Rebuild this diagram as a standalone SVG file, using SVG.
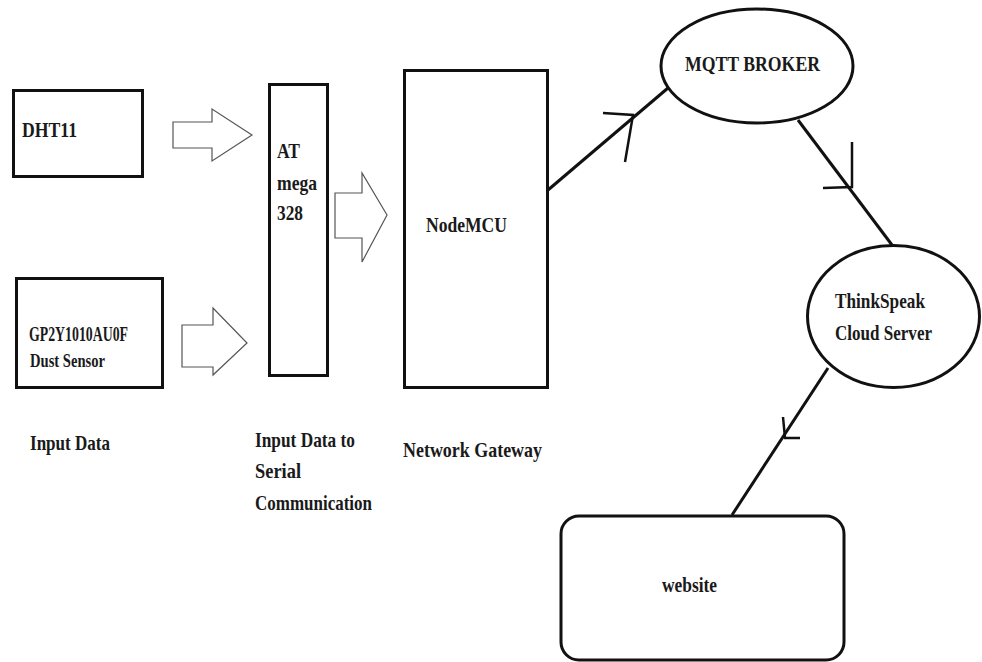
<svg xmlns="http://www.w3.org/2000/svg" width="982" height="662" viewBox="0 0 982 662">
<style>
.box{fill:none;stroke:#111;stroke-width:3}
.blk{fill:#fff;stroke:#555;stroke-width:1.2}
.ln{fill:none;stroke:#111;stroke-width:3}
.tick{fill:none;stroke:#111;stroke-width:2.5}
text{font-family:"Liberation Serif","Times New Roman",serif;font-weight:bold;fill:#1a1a1a;font-size:22px}
</style>
<rect width="982" height="662" fill="#fff"/>
<g id="dht11">
<rect class="box" x="13.5" y="90.5" width="129" height="86"/>
<text x="22" y="137" textLength="55" lengthAdjust="spacingAndGlyphs">DHT11</text>
</g>
<g id="gp2y">
<rect class="box" x="16.5" y="278.5" width="146" height="109"/>
<text x="29" y="341" font-size="20" textLength="99" lengthAdjust="spacingAndGlyphs" style="font-size:20px">GP2Y1010AU0F</text>
<text x="30" y="367" style="font-size:19px" textLength="75" lengthAdjust="spacingAndGlyphs">Dust Sensor</text>
</g>
<g id="atmega">
<rect class="box" x="269.5" y="84.5" width="58" height="291"/>
<text x="277" y="158" textLength="23" lengthAdjust="spacingAndGlyphs">AT</text>
<text x="277" y="190" textLength="40" lengthAdjust="spacingAndGlyphs">mega</text>
<text x="277" y="220" textLength="26" lengthAdjust="spacingAndGlyphs">328</text>
</g>
<g id="nodemcu">
<rect class="box" x="404.5" y="70.5" width="143" height="317"/>
<text x="426" y="232" textLength="81" lengthAdjust="spacingAndGlyphs">NodeMCU</text>
</g>
<g id="mqtt">
<ellipse class="box" cx="757" cy="66" rx="96" ry="57"/>
<text x="685" y="71" textLength="135" lengthAdjust="spacingAndGlyphs">MQTT BROKER</text>
</g>
<g id="thingspeak">
<ellipse class="box" cx="893.5" cy="316.5" rx="86" ry="71"/>
<text x="835" y="308" textLength="90" lengthAdjust="spacingAndGlyphs">ThinkSpeak</text>
<text x="835" y="340" textLength="97" lengthAdjust="spacingAndGlyphs">Cloud Server</text>
</g>
<g id="website">
<rect class="box" x="561" y="516" width="283" height="144" rx="18"/>
<text x="662" y="592" textLength="55" lengthAdjust="spacingAndGlyphs">website</text>
</g>
<g id="labels">
<text x="30" y="450" textLength="80" lengthAdjust="spacingAndGlyphs">Input Data</text>
<text x="255" y="447" textLength="100" lengthAdjust="spacingAndGlyphs">Input Data to</text>
<text x="255" y="478" textLength="46" lengthAdjust="spacingAndGlyphs">Serial</text>
<text x="255" y="510" textLength="117" lengthAdjust="spacingAndGlyphs">Communication</text>
<text x="403" y="457" textLength="139" lengthAdjust="spacingAndGlyphs">Network Gateway</text>
</g>
<g id="connectors">
<polygon class="blk" points="173,122 212,122 212,109 252,135 212,161 212,148 173,148"/>
<polygon class="blk" points="182,325 213,325 213,308 247,343 213,375 213,367 182,367"/>
<polygon class="blk" points="335,193 362,193 362,173 387,215 362,262 362,238 335,238"/>
<line class="ln" x1="548" y1="190" x2="668" y2="88"/>
<polyline class="tick" points="603,113 633,115 625,162"/>
<line class="ln" x1="798" y1="120" x2="892" y2="245"/>
<polyline class="tick" points="852,142 852,187 823,188"/>
<line class="ln" x1="828" y1="368" x2="732" y2="515"/>
<polyline class="tick" points="783,417 785,438 800,438"/>
</g>
</svg>
